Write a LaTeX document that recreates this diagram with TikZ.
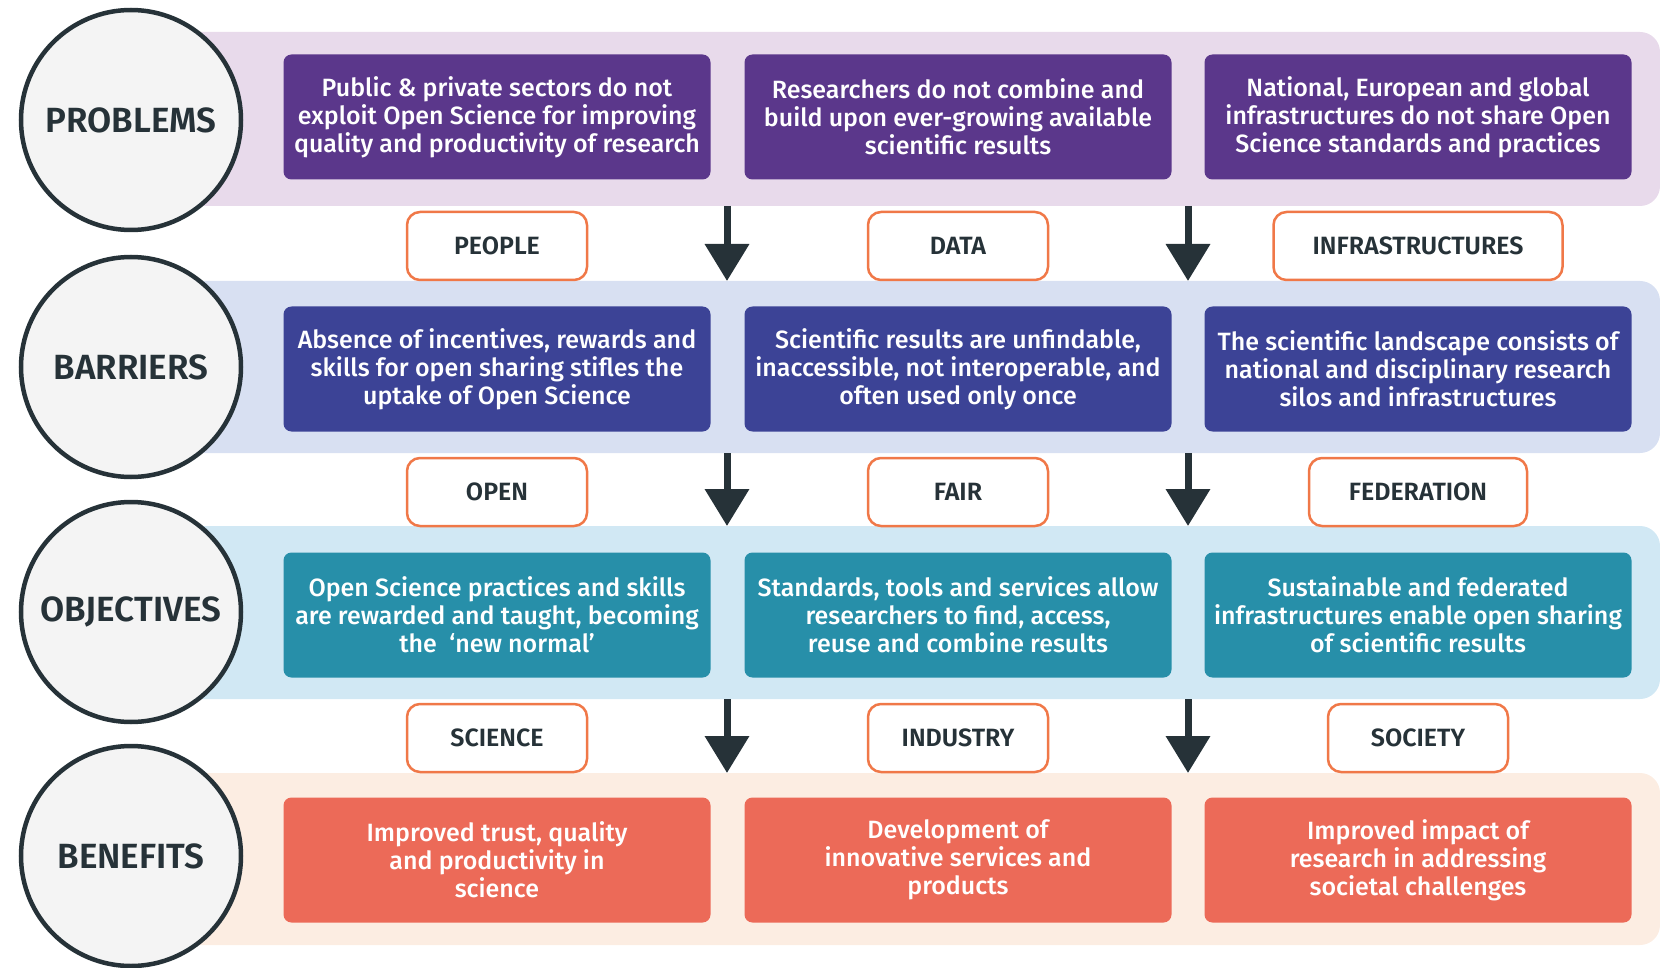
\documentclass[tikz,border=0pt]{standalone}
\usepackage{fontspec}
\setmainfont{Fira Sans}
\newfontfamily\firamed{Fira Sans Medium}
\newfontfamily\firasemi{Fira Sans SemiBold}
\usetikzlibrary{arrows.meta}
\definecolor{ink}{HTML}{263238}
\definecolor{bandA}{HTML}{E8DAEB}
\definecolor{bandB}{HTML}{D8E0F2}
\definecolor{bandC}{HTML}{D1E8F4}
\definecolor{bandD}{HTML}{FCEDE2}
\definecolor{boxA}{HTML}{5B378B}
\definecolor{boxB}{HTML}{3C4396}
\definecolor{boxC}{HTML}{278FA9}
\definecolor{boxD}{HTML}{EC6A58}
\definecolor{lblborder}{HTML}{F07848}
\definecolor{circfill}{HTML}{F4F4F4}
\tikzset{
  band/.style={rounded corners=20pt},
  card/.style={rounded corners=8pt, minimum width=427pt, minimum height=125pt,
    text=white, align=center, inner sep=0pt,
    font=\firamed\fontsize{25}{28}\selectfont},
  tag/.style={draw=lblborder, line width=2.5pt, fill=white, rounded corners=13pt,
    minimum height=68pt, text=ink, inner sep=0pt,
    font=\firasemi\fontsize{25}{28}\selectfont},
  stage/.style={circle, draw=ink, line width=4.5pt, fill=circfill, minimum size=220pt,
    inner sep=0pt, text=ink, font=\firasemi\fontsize{35}{38}\selectfont},
  flow/.style={draw=ink, line width=7pt, -{Triangle[width=43pt,length=37pt]}}
}
\begin{document}
\begin{tikzpicture}[x=1pt,y=-1pt]
\useasboundingbox (0,0) rectangle (1660,968);
% bands
\fill[bandA, band] (130,32) rectangle (1660,206);
\fill[bandB, band] (130,281) rectangle (1660,453);
\fill[bandC, band] (130,526) rectangle (1660,699);
\fill[bandD, band] (130,773) rectangle (1660,945);
% stage circles
\node[stage] (problems) at (131,120) {PROBLEMS};
\node[stage] (barriers) at (131,367) {BARRIERS};
\node[stage] (objectives) at (131,612) {OBJECTIVES};
\node[stage] (benefits) at (131,856) {BENEFITS};
% row 1
\node[card, fill=boxA] (p1) at (497,117) {Public \& private sectors do not\\exploit Open Science for improving\\quality and productivity of research};
\node[card, fill=boxA] (p2) at (958,117) {Researchers do not combine and\\build upon ever-growing available\\scientific results};
\node[card, fill=boxA] (p3) at (1418,117) {National, European and global\\infrastructures do not share Open\\Science standards and practices};
% row 2
\node[card, fill=boxB] (b1) at (497,369) {Absence of incentives, rewards and\\skills for open sharing stifles the\\uptake of Open Science};
\node[card, fill=boxB] (b2) at (958,369) {Scientific results are unfindable,\\inaccessible, not interoperable, and\\often used only once};
\node[card, fill=boxB] (b3) at (1418,369) {The scientific landscape consists of\\national and disciplinary research\\silos and infrastructures};
% row 3
\node[card, fill=boxC] (o1) at (497,615) {Open Science practices and skills\\are rewarded and taught, becoming\\the \ ‘new normal’};
\node[card, fill=boxC] (o2) at (958,615) {Standards, tools and services allow\\researchers to find, access,\\reuse and combine results};
\node[card, fill=boxC] (o3) at (1418,615) {Sustainable and federated\\infrastructures enable open sharing\\of scientific results};
% row 4
\node[card, fill=boxD] (e1) at (497,860) {Improved trust, quality\\and productivity in\\science};
\node[card, fill=boxD] (e2) at (958,860) {Development of\\innovative services and\\products};
\node[card, fill=boxD] (e3) at (1418,860) {Improved impact of\\research in addressing\\societal challenges};
% tags
\node[tag, minimum width=180pt] (people) at (497,246) {PEOPLE};
\node[tag, minimum width=180pt] (data) at (958,246) {DATA};
\node[tag, minimum width=289pt] (infra) at (1418,246) {INFRASTRUCTURES};
\node[tag, minimum width=180pt] (open) at (497,492) {OPEN};
\node[tag, minimum width=180pt] (fair) at (958,492) {FAIR};
\node[tag, minimum width=218pt] (federation) at (1418,492) {FEDERATION};
\node[tag, minimum width=180pt] (science) at (497,738) {SCIENCE};
\node[tag, minimum width=180pt] (industry) at (958,738) {INDUSTRY};
\node[tag, minimum width=180pt] (society) at (1418,738) {SOCIETY};
% arrows
\foreach \ax/\nm in {727/a, 1188/b}{
  \coordinate (\nm1s) at (\ax,206); \coordinate (\nm1e) at (\ax,281);
  \coordinate (\nm2s) at (\ax,453); \coordinate (\nm2e) at (\ax,526);
  \coordinate (\nm3s) at (\ax,699); \coordinate (\nm3e) at (\ax,773);
}
\draw[flow] (a1s) -- (a1e);
\draw[flow] (a2s) -- (a2e);
\draw[flow] (a3s) -- (a3e);
\draw[flow] (b1s) -- (b1e);
\draw[flow] (b2s) -- (b2e);
\draw[flow] (b3s) -- (b3e);
\end{tikzpicture}
\end{document}
